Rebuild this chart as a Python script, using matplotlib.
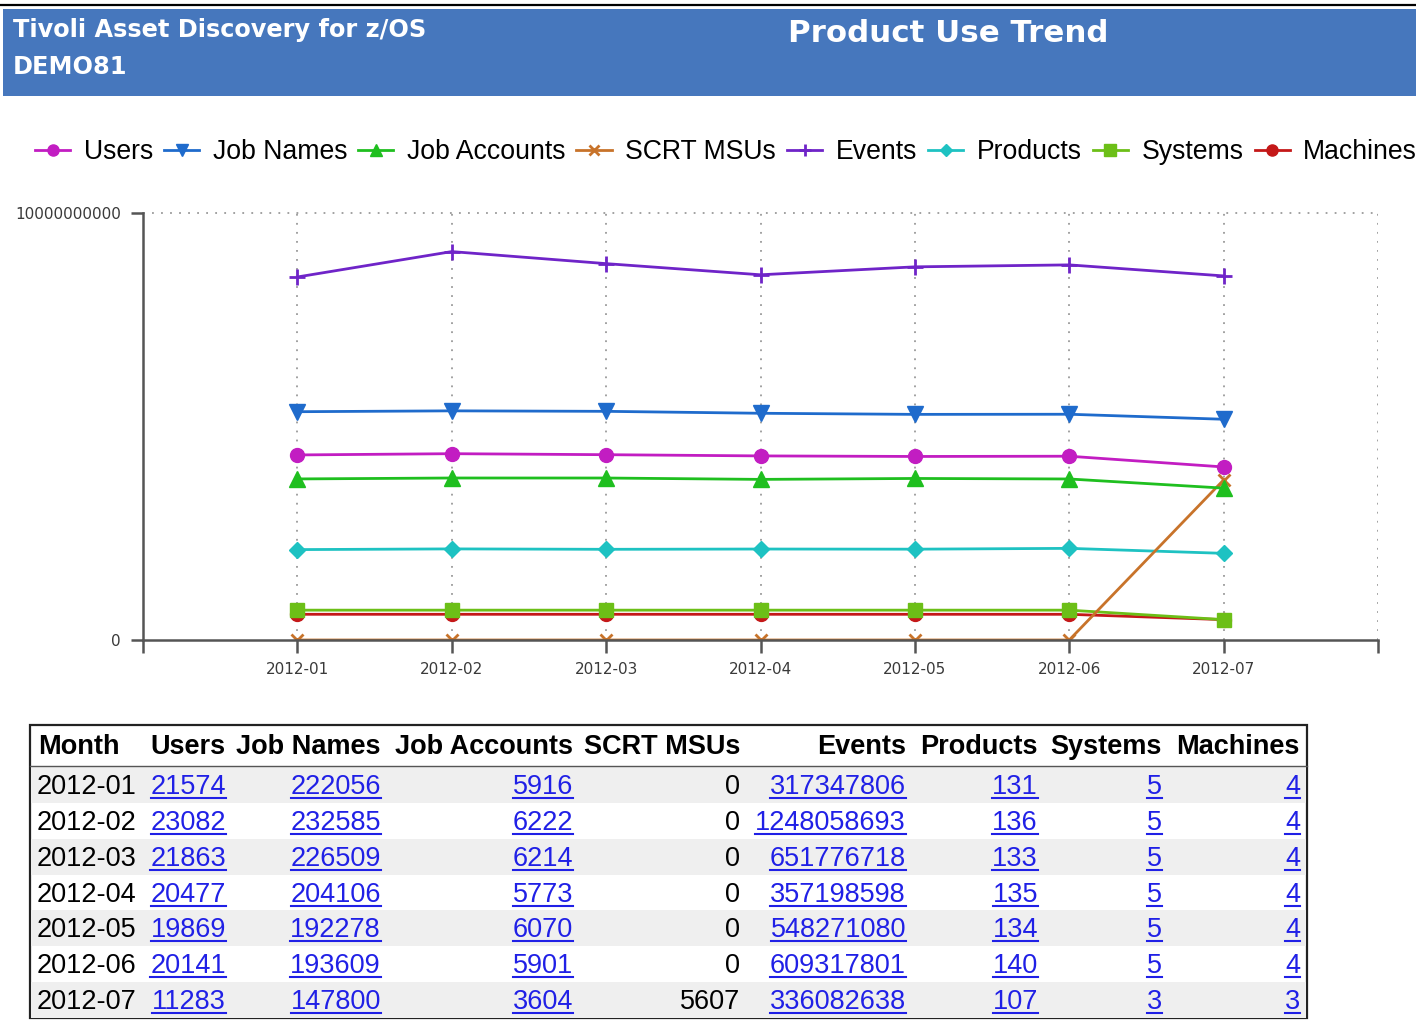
import numpy as np
import matplotlib
matplotlib.use("Agg")
import matplotlib.pyplot as plt
from matplotlib.lines import Line2D
from matplotlib.patches import Rectangle

months = ["2012-01", "2012-02", "2012-03", "2012-04", "2012-05", "2012-06", "2012-07"]
users = [21574, 23082, 21863, 20477, 19869, 20141, 11283]
job_names = [222056, 232585, 226509, 204106, 192278, 193609, 147800]
job_accounts = [5916, 6222, 6214, 5773, 6070, 5901, 3604]
scrt_msus = [0, 0, 0, 0, 0, 0, 5607]
events = [317347806, 1248058693, 651776718, 357198598, 548271080, 609317801, 336082638]
products = [131, 136, 133, 135, 134, 140, 107]
systems = [5, 5, 5, 5, 5, 5, 3]
machines = [4, 4, 4, 4, 4, 4, 3]

series_names = ["Users", "Job Names", "Job Accounts", "SCRT MSUs", "Events",
                "Products", "Systems", "Machines"]
series_values = [users, job_names, job_accounts, scrt_msus, events,
                 products, systems, machines]
colors = ["#C21DC2", "#1F6BCC", "#1FBF1F", "#C8732A", "#6F24C8",
          "#1EC2C2", "#6CBF17", "#C41818"]
markers = ["o", "v", "^", "x", "+", "D", "s", "o"]
msizes = [10, 11, 11, 9, 11, 8, 10, 10]
y_ticks = [0, 10]

W, H = 1416, 1027
fig = plt.figure(figsize=(W / 100, H / 100), dpi=100)


def fx(px):
    return px / W


def fy(py):
    return 1 - py / H


# Cabecera
fig.add_artist(Line2D([0, 1], [fy(5), fy(5)], color="black", lw=1.6))
fig.add_artist(Rectangle((fx(3), fy(96)), fx(1416 - 3), (96 - 9) / H,
                         color="#4677BD", lw=0))
fig.text(fx(13), fy(30), "Tivoli Asset Discovery for z/OS", color="white",
         fontsize=17.3, fontweight="bold", family="DejaVu Sans", va="center")
fig.text(fx(13), fy(67), "DEMO81", color="white", fontsize=17.3,
         fontweight="bold", family="DejaVu Sans", va="center")
fig.text(fx(788), fy(33), "Product Use Trend", color="white", fontsize=22.2,
         fontweight="bold", family="DejaVu Sans", va="center")

# Grafico (escala log10, el 0 se dibuja en 0)
ax = fig.add_axes([fx(143), fy(640), fx(1378 - 143), (640 - 213) / H])
x = np.arange(len(months))
lines = []
for name, vals, c, m, ms in reversed(list(zip(series_names, series_values,
                                               colors, markers, msizes))):
    v = np.array(vals, dtype=float)
    yv = np.where(v > 0, np.log10(np.maximum(v, 1)), 0)
    ln, = ax.plot(x, yv, color=c, marker=m, markersize=ms, lw=2,
                  markeredgewidth=2 if m in "x+" else 1, label=name)
    lines.append(ln)
lines = lines[::-1]

ax.set_xlim(-1, len(months))
ax.set_ylim(y_ticks[0], y_ticks[-1])
ax.set_xticks(np.arange(-1, len(months) + 1))
ax.set_xticklabels([""] + months + [""])
ax.set_yticks(y_ticks)
ax.set_yticklabels(["0" if t == 0 else str(10 ** t) for t in y_ticks])
for s in ["top", "right"]:
    ax.spines[s].set_visible(False)
for s in ["left", "bottom"]:
    ax.spines[s].set_color("#555555")
    ax.spines[s].set_linewidth(1.8)
ax.tick_params(length=9, width=1.8, color="#555555", labelsize=11,
               labelcolor="#3a3a3a", pad=7)
for gx in range(len(months) + 1):
    ax.axvline(gx, color="#9a9a9a", ls=(0, (1, 4)), lw=1.3, zorder=0)
ax.axhline(y_ticks[-1], color="#9a9a9a", ls=(0, (1, 4)), lw=1.3, zorder=0,
           clip_on=False)

fig.legend(handles=lines, labels=series_names, ncol=8, loc="center left",
           bbox_to_anchor=(fx(35), fy(152)), frameon=False,
           prop={"family": "Liberation Sans", "size": 19.2},
           handlelength=1.32, handletextpad=0.5, columnspacing=0.42,
           markerscale=0.8, borderpad=0, borderaxespad=0)

# Tabla
fig.add_artist(Rectangle((fx(30), fy(1018)), fx(1307 - 30), (1018 - 725) / H,
                         facecolor="none", edgecolor="#222222", lw=1.6))
fig.add_artist(Line2D([fx(30), fx(1307)], [fy(766), fy(766)],
                      color="#555555", lw=1.0))
row_h = (1018 - 767) / len(months)
for i in range(len(months)):
    if i % 2 == 0:
        fig.add_artist(Rectangle((fx(31), fy(767 + (i + 1) * row_h)),
                                 fx(1306 - 31), row_h / H,
                                 facecolor="#EFEFEF", lw=0))

col_right = [226, 381, 573, 740, 906, 1038, 1162, 1300]
tprops = {"family": "Liberation Sans", "size": 19.5}
fig.text(fx(38), fy(754), "Month", fontweight="bold", **tprops)
for name, cr in zip(series_names, col_right):
    fig.text(fx(cr), fy(754), name, fontweight="bold", ha="right", **tprops)

links = []
for i, mth in enumerate(months):
    base = 767 + i * row_h + 27
    fig.text(fx(37), fy(base), mth, color="black", **tprops)
    for name, vals, cr in zip(series_names, series_values, col_right):
        if name == "SCRT MSUs":
            fig.text(fx(cr), fy(base), str(vals[i]), ha="right",
                     color="black", **tprops)
        else:
            t = fig.text(fx(cr), fy(base), str(vals[i]), ha="right",
                         color="#2020E6", **tprops)
            links.append((t, base))

renderer = fig.canvas.get_renderer()
for t, base in links:
    bb = t.get_window_extent(renderer)
    fig.add_artist(Line2D([bb.x0 / W, bb.x1 / W], [fy(base + 4), fy(base + 4)],
                          color="#2020E6", lw=1.5))

fig.savefig("out.png", dpi=100)
